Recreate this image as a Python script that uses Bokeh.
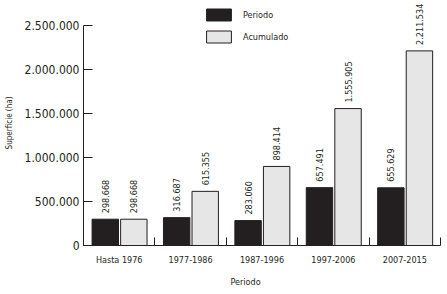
import math
from bokeh.plotting import figure
from bokeh.models import (ColumnDataSource, FixedTicker, Legend, LegendItem, Title)
from bokeh.core.properties import value
from bokeh.embed import file_html
from bokeh.resources import INLINE

# ---- data ----
categories = ["Hasta 1976", "1977-1986", "1987-1996", "1997-2006", "2007-2015"]
periodo = [298668, 316687, 283060, 657491, 655629]
acumulado = [298668, 615355, 898414, 1555905, 2211534]
y_ticks = [0, 500000, 1000000, 1500000, 2000000, 2500000]

FONT = "DejaVu Sans Condensed"
INK = "#231f20"
GREY = "#e6e6e6"

def fmt(v):
    return f"{v:,}".replace(",", ".")

# frame: 245 px tall, of which 220 px hold the 0..2.5M axis
FRAME_H = 245
Y_TOP = y_ticks[-1] * FRAME_H / 220

centers = [i + 0.5 for i in range(len(categories))]
src = ColumnDataSource(dict(
    xp=[c - 0.195 for c in centers],
    xa=[c + 0.205 for c in centers],
    per=periodo,
    acu=acumulado,
    per_lbl=[fmt(v) for v in periodo],
    acu_lbl=[fmt(v) for v in acumulado],
))

p = figure(width=447, height=294,
           min_border_left=83, min_border_right=7,
           min_border_top=0, min_border_bottom=294 - FRAME_H,
           x_range=(0, len(categories)), y_range=(0, Y_TOP),
           output_backend="svg", toolbar_location=None)
p.outline_line_color = None
p.xgrid.visible = False
p.ygrid.visible = False
p.background_fill_color = "white"
p.border_fill_color = "white"

r1 = p.vbar(x="xp", top="per", width=0.37, source=src,
            fill_color=INK, line_color=INK, line_width=1)
r2 = p.vbar(x="xa", top="acu", width=0.37, source=src,
            fill_color=GREY, line_color=INK, line_width=1)

for xcol, ycol, lcol in (("xp", "per", "per_lbl"), ("xa", "acu", "acu_lbl")):
    p.text(x=xcol, y=ycol, text=lcol, source=src, angle=math.pi / 2,
           text_align="left", text_baseline="middle", y_offset=-6,
           text_font=value(FONT), text_font_size="9px", text_color=INK)

# y axis
ya = p.yaxis[0]
ya.ticker = FixedTicker(ticks=y_ticks)
ya.bounds = (y_ticks[0], y_ticks[-1])
ya.major_label_overrides = {t: fmt(t) for t in y_ticks}
ya.major_tick_in = 9
ya.major_tick_out = 0
ya.minor_tick_line_color = None
ya.axis_line_color = INK
ya.major_tick_line_color = INK
ya.major_label_text_font = FONT
ya.major_label_text_font_size = "12px"
ya.major_label_text_color = INK
ya.major_label_standoff = 4
ya.axis_label = "Superficie (ha)"
ya.axis_label_text_font = FONT
ya.axis_label_text_font_size = "8px"
ya.axis_label_text_font_style = "normal"
ya.axis_label_text_color = INK
ya.axis_label_standoff = 8

# x axis
xa = p.xaxis[0]
xa.ticker = FixedTicker(ticks=centers, minor_ticks=list(range(len(categories) + 1)))
xa.major_label_overrides = {c: lab for c, lab in zip(centers, categories)}
xa.major_tick_line_color = None
xa.minor_tick_in = 8
xa.minor_tick_out = 0
xa.minor_tick_line_color = INK
xa.axis_line_color = INK
xa.major_label_text_font = FONT
xa.major_label_text_font_size = "9px"
xa.major_label_text_color = INK
xa.major_label_standoff = 3

p.add_layout(Title(text="Periodo", align="left", offset=147,
                   text_font=FONT, text_font_size="9px", text_font_style="normal",
                   text_color=INK, standoff=15), "below")

legend = Legend(items=[LegendItem(label="Periodo", renderers=[r1]),
                       LegendItem(label="Acumulado", renderers=[r2])],
                location=(120, 201), orientation="vertical",
                glyph_width=31, glyph_height=15, label_height=15,
                spacing=7, padding=0, margin=0, label_standoff=9,
                border_line_color=None, background_fill_alpha=0,
                label_text_font=FONT, label_text_font_size="9px",
                label_text_color=INK)
p.add_layout(legend, "center")

open("out.html", "w").write(file_html(p, INLINE))
